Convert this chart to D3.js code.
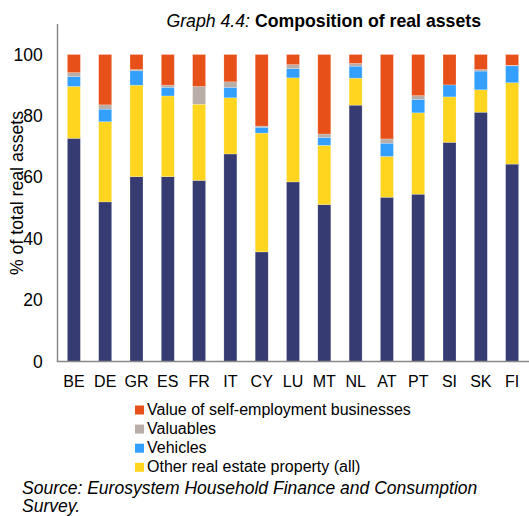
<!DOCTYPE html>
<html>
<head>
<meta charset="utf-8">
<script src="https://cdn.jsdelivr.net/npm/d3@7"></script>
<style>
  html, body { margin: 0; padding: 0; background: #fff; }
  svg { display: block; font-family: "Liberation Sans", Arial, sans-serif; }
</style>
</head>
<body>
<svg id="chart" width="529" height="516"></svg>
<script>
// Countries surveyed
const countries = ["BE","DE","GR","ES","FR","IT","CY","LU","MT","NL","AT","PT","SI","SK","FI"];

// Shares of total real assets (%), one array per component
const mainResidence = [72.7, 52.0, 60.2, 60.2, 59.0, 67.6, 35.7, 58.5, 51.1, 83.5, 53.5, 54.5, 71.4, 81.2, 64.3];
const otherRealEstate = [16.9, 26.1, 29.8, 26.3, 24.8, 18.3, 38.7, 33.9, 19.3, 8.8, 13.3, 26.5, 14.8, 7.3, 26.5];
const vehicles = [3.2, 4.1, 4.7, 2.8, 0.0, 3.4, 1.9, 3.0, 2.6, 3.9, 4.3, 4.4, 3.9, 6.1, 5.5];
const valuables = [1.3, 1.4, 0.4, 0.7, 5.8, 1.8, 0.4, 1.3, 1.1, 0.9, 1.4, 1.2, 0.0, 0.5, 0.2];
const business = [5.9, 16.4, 4.9, 10.0, 10.4, 8.9, 23.3, 3.3, 25.9, 2.9, 27.5, 13.4, 9.9, 4.9, 3.5];

const yTicks = [0, 20, 40, 60, 80, 100];

const seriesKeys = ["main", "other", "vehicles", "valuables", "business"];
const seriesColors = {
  main: "#363C72",
  other: "#FFD520",
  vehicles: "#33A0FF",
  valuables: "#B8ADA7",
  business: "#E8501A"
};
const legendItems = [
  { key: "business", label: "Value of self-employment businesses" },
  { key: "valuables", label: "Valuables" },
  { key: "vehicles", label: "Vehicles" },
  { key: "other", label: "Other real estate property (all)" }
];

const rows = countries.map((c, i) => ({
  country: c,
  main: mainResidence[i],
  other: otherRealEstate[i],
  vehicles: vehicles[i],
  valuables: valuables[i],
  business: business[i]
}));

const svg = d3.select("#chart");
const plotLeft = 58, plotRight = 528, plotTop = 54.5, plotBottom = 361.5;

const x = d3.scaleBand().domain(countries).range([plotLeft, plotRight]).paddingInner(0.585).paddingOuter(0.3);
const y = d3.scaleLinear().domain([0, 100]).range([plotBottom, plotTop]);

const stacked = d3.stack().keys(seriesKeys)(rows);

// Stacked bars
svg.append("g")
  .selectAll("g")
  .data(stacked)
  .join("g")
  .attr("fill", d => seriesColors[d.key])
  .selectAll("rect")
  .data(d => d)
  .join("rect")
  .attr("x", d => x(d.data.country))
  .attr("width", x.bandwidth())
  .attr("y", d => y(d[1]))
  .attr("height", d => Math.max(0, y(d[0]) - y(d[1])))
  .attr("stroke", "#ffffff")
  .attr("stroke-opacity", 0.35)
  .attr("stroke-width", 0.6);

// Axis lines
svg.append("line")
  .attr("x1", plotLeft - 0.5).attr("x2", plotLeft - 0.5)
  .attr("y1", 24).attr("y2", plotBottom)
  .attr("stroke", "#888").attr("stroke-width", 1.5);
svg.append("line")
  .attr("x1", plotLeft - 1.2).attr("x2", 529)
  .attr("y1", plotBottom).attr("y2", plotBottom)
  .attr("stroke", "#888").attr("stroke-width", 1.5);

// Y tick labels
const yAxis = d3.axisLeft(y).tickValues(yTicks).tickSize(0).tickPadding(0);
const yg = svg.append("g").attr("transform", `translate(42.7,0)`).call(yAxis);
yg.select(".domain").remove();
yg.selectAll("text")
  .attr("font-size", 17.5).attr("fill", "#000")
  .attr("font-family", "Liberation Sans, Arial, sans-serif");

// X tick labels
const xAxis = d3.axisBottom(x).tickSize(0).tickPadding(0);
const xg = svg.append("g").attr("transform", `translate(0,${plotBottom + 14.5})`).call(xAxis);
xg.select(".domain").remove();
xg.selectAll("text")
  .attr("font-size", 16).attr("fill", "#000")
  .attr("font-family", "Liberation Sans, Arial, sans-serif");

// Y axis title
svg.append("text")
  .attr("transform", `translate(22.5,193) rotate(-90)`)
  .attr("text-anchor", "middle")
  .attr("font-size", 17.7)
  .text("% of total real assets");

// Chart title
const title = svg.append("text")
  .attr("x", 481).attr("y", 27)
  .attr("text-anchor", "end")
  .attr("font-size", 17.7);
title.append("tspan").attr("font-style", "italic").text("Graph 4.4: ");
title.append("tspan").attr("font-weight", "bold").text("Composition of real assets");

// Legend
const lg = svg.append("g").attr("transform", "translate(135,410)");
legendItems.forEach((d, i) => {
  const g = lg.append("g").attr("transform", `translate(0,${i * 19.1})`);
  g.append("rect").attr("x", 0).attr("y", -4.5).attr("width", 9).attr("height", 9)
    .attr("fill", seriesColors[d.key]);
  g.append("text").attr("x", 12).attr("y", 4.5).attr("font-size", 16).text(d.label);
});

// Source note
svg.append("text")
  .attr("x", 22).attr("y", 493.5)
  .attr("font-size", 17.5).attr("font-style", "italic")
  .text("Source: Eurosystem Household Finance and Consumption");
svg.append("text")
  .attr("x", 22).attr("y", 512)
  .attr("font-size", 17.5).attr("font-style", "italic")
  .text("Survey.");
</script>
</body>
</html>
